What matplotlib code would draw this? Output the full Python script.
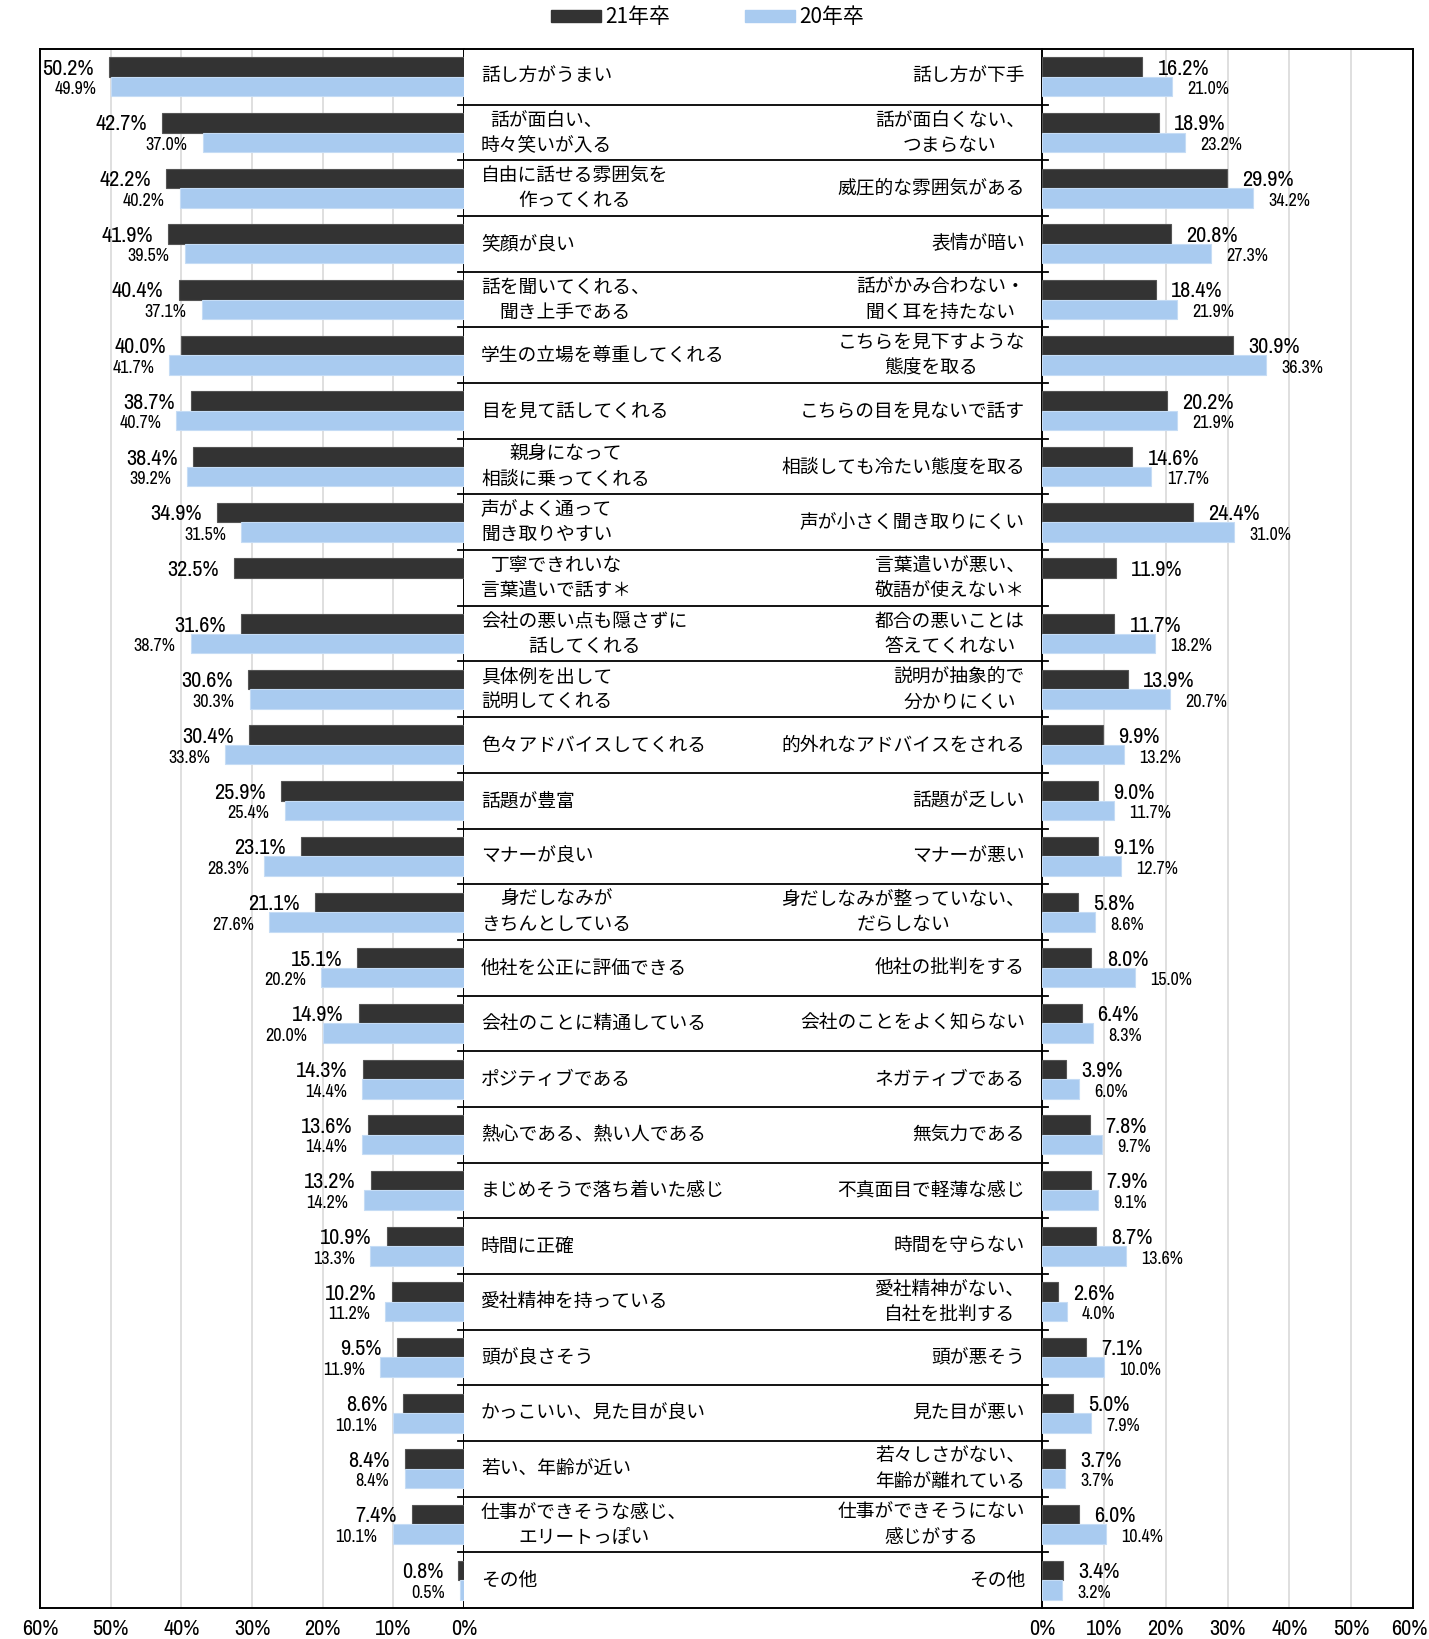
"""Good vs bad impressions of recruiters (21年卒 vs 20年卒), butterfly bar chart."""

import matplotlib
matplotlib.use("Agg")
import matplotlib.pyplot as plt
import matplotlib.transforms as mtransforms
import numpy as np
from matplotlib import font_manager
from matplotlib.lines import Line2D
from matplotlib.patches import Patch

JP = "Noto Sans CJK JP"

# the original uses a narrow font for the numbers; take one if the box has it
narrow = sorted({f.name for f in font_manager.fontManager.ttflist
                 if "Narrow" in f.name or "Condensed" in f.name})
if narrow:
    NUM = [narrow[0], JP]
    NUM_BIG, NUM_SMALL, TICK = 16, 13, 16
else:
    NUM = ["Liberation Sans", JP]
    NUM_BIG, NUM_SMALL, TICK = 13.5, 11, 12.5

GOOD_LABELS = [
    "話し方がうまい", "話が面白い、\n時々笑いが入る", "自由に話せる雰囲気を\n作ってくれる",
    "笑顔が良い", "話を聞いてくれる、\n聞き上手である", "学生の立場を尊重してくれる",
    "目を見て話してくれる", "親身になって\n相談に乗ってくれる", "声がよく通って\n聞き取りやすい",
    "丁寧できれいな\n言葉遣いで話す＊", "会社の悪い点も隠さずに\n話してくれる",
    "具体例を出して\n説明してくれる", "色々アドバイスしてくれる", "話題が豊富", "マナーが良い",
    "身だしなみが\nきちんとしている", "他社を公正に評価できる", "会社のことに精通している",
    "ポジティブである", "熱心である、熱い人である", "まじめそうで落ち着いた感じ",
    "時間に正確", "愛社精神を持っている", "頭が良さそう", "かっこいい、見た目が良い",
    "若い、年齢が近い", "仕事ができそうな感じ、\nエリートっぽい", "その他",
]
BAD_LABELS = [
    "話し方が下手", "話が面白くない、\nつまらない", "威圧的な雰囲気がある", "表情が暗い",
    "話がかみ合わない・\n聞く耳を持たない", "こちらを見下すような\n態度を取る",
    "こちらの目を見ないで話す", "相談しても冷たい態度を取る", "声が小さく聞き取りにくい",
    "言葉遣いが悪い、\n敬語が使えない＊", "都合の悪いことは\n答えてくれない",
    "説明が抽象的で\n分かりにくい", "的外れなアドバイスをされる", "話題が乏しい", "マナーが悪い",
    "身だしなみが整っていない、\nだらしない", "他社の批判をする", "会社のことをよく知らない",
    "ネガティブである", "無気力である", "不真面目で軽薄な感じ", "時間を守らない",
    "愛社精神がない、\n自社を批判する", "頭が悪そう", "見た目が悪い",
    "若々しさがない、\n年齢が離れている", "仕事ができそうにない\n感じがする", "その他",
]

nan = np.nan
GOOD_21 = [50.2, 42.7, 42.2, 41.9, 40.4, 40.0, 38.7, 38.4, 34.9, 32.5, 31.6, 30.6, 30.4, 25.9,
           23.1, 21.1, 15.1, 14.9, 14.3, 13.6, 13.2, 10.9, 10.2, 9.5, 8.6, 8.4, 7.4, 0.8]
GOOD_20 = [49.9, 37.0, 40.2, 39.5, 37.1, 41.7, 40.7, 39.2, 31.5, nan, 38.7, 30.3, 33.8, 25.4,
           28.3, 27.6, 20.2, 20.0, 14.4, 14.4, 14.2, 13.3, 11.2, 11.9, 10.1, 8.4, 10.1, 0.5]
BAD_21 = [16.2, 18.9, 29.9, 20.8, 18.4, 30.9, 20.2, 14.6, 24.4, 11.9, 11.7, 13.9, 9.9, 9.0,
          9.1, 5.8, 8.0, 6.4, 3.9, 7.8, 7.9, 8.7, 2.6, 7.1, 5.0, 3.7, 6.0, 3.4]
BAD_20 = [21.0, 23.2, 34.2, 27.3, 21.9, 36.3, 21.9, 17.7, 31.0, nan, 18.2, 20.7, 13.2, 11.7,
          12.7, 8.6, 15.0, 8.3, 6.0, 9.7, 9.1, 13.6, 4.0, 10.0, 7.9, 3.7, 10.4, 3.2]

SERIES = ["21年卒", "20年卒"]
DARK = "#333333"
BLUE = "#A9CBF0"
GRID = "#D9D9D9"

W, H = 1429, 1639
fig = plt.figure(figsize=(W / 100, H / 100), dpi=100)
fig.patch.set_facecolor("white")

# pixel layout of the three columns
X0, XL, XR, X1 = 40, 464, 1042, 1413
Y0, Y1 = 49, 1608
bottom = 1 - Y1 / H
height = (Y1 - Y0) / H
ax_l = fig.add_axes([X0 / W, bottom, (XL - X0) / W, height])
ax_m = fig.add_axes([XL / W, bottom, (XR - XL) / W, height])
ax_r = fig.add_axes([XR / W, bottom, (X1 - XR) / W, height])

n = len(GOOD_LABELS)
y = np.arange(n)
bh = 0.35


def draw_panel(ax, v21, v20, side):
    ax.barh(y - bh / 2, v21, bh, color=DARK, edgecolor="#555555", linewidth=0.8, zorder=3)
    ax.barh(y + bh / 2, v20, bh, color=BLUE, edgecolor="#C5DCF5", linewidth=0.8, zorder=3)
    ax.set_xlim(0, 60)
    ax.set_ylim(n - 0.5, -0.5)
    ax.set_yticks([])
    ax.set_xticks(np.arange(0, 61, 10))
    ax.set_xticklabels([f"{t}%" for t in range(0, 61, 10)], family=NUM, fontsize=TICK)
    ax.tick_params(axis="x", length=0, pad=8)
    ax.grid(axis="x", color=GRID, linewidth=1.2)
    ax.set_axisbelow(True)
    for s in ax.spines.values():
        s.set_color("black")
        s.set_linewidth(1.4)
    sgn = -1 if side == "left" else 1
    ha = "right" if side == "left" else "left"
    for i, (a, b) in enumerate(zip(v21, v20)):
        if not np.isnan(a):
            ax.annotate(f"{a:.1f}%", (a, i - bh / 2 + 0.03), xytext=(sgn * 11, 0),
                        textcoords="offset points", ha=ha, va="center",
                        family=NUM, fontsize=NUM_BIG)
        if not np.isnan(b):
            ax.annotate(f"{b:.1f}%", (b, i + bh / 2 + 0.05), xytext=(sgn * 11, 0),
                        textcoords="offset points", ha=ha, va="center",
                        family=NUM, fontsize=NUM_SMALL)
    if side == "left":
        ax.invert_xaxis()


draw_panel(ax_l, GOOD_21, GOOD_20, "left")
draw_panel(ax_r, BAD_21, BAD_20, "right")
# nudge the last tick label of the right panel so it stays inside the picture
last = ax_r.get_xticklabels()[-1]
last.set_transform(last.get_transform()
                   + mtransforms.ScaledTranslation(-3 / 72, 0, fig.dpi_scale_trans))

# middle text column
ax_m.set_xlim(0, 1)
ax_m.set_ylim(n - 0.5, -0.5)
ax_m.set_xticks([])
ax_m.set_yticks([])
for side in ("left", "right"):
    ax_m.spines[side].set_visible(False)
for side in ("top", "bottom"):
    ax_m.spines[side].set_linewidth(1.4)
for i in range(n):
    ax_m.text(17 / (XR - XL), i, GOOD_LABELS[i], ha="left", va="center",
              multialignment="center", family=JP, fontsize=13.5, linespacing=1.25)
    ax_m.text(1 - 17 / (XR - XL), i, BAD_LABELS[i], ha="right", va="center",
              multialignment="center", family=JP, fontsize=13.5, linespacing=1.25)

# row separators (extend a little past the inner spines)
for i in range(n - 1):
    yy = bottom + height * (1 - (i + 1) / n)
    fig.add_artist(Line2D([(XL - 6) / W, (XR + 6) / W], [yy, yy],
                          color="black", linewidth=1.3))

handles = [Patch(facecolor=DARK, edgecolor=DARK), Patch(facecolor=BLUE, edgecolor=BLUE)]
fig.legend(handles, SERIES, loc="center", bbox_to_anchor=(0.495, 1 - 17 / H), ncol=2,
           frameon=False, prop={"family": JP, "size": 15}, handlelength=2.4,
           handleheight=0.5, handletextpad=0.2, columnspacing=3.6)

fig.savefig("out.png", dpi=100, facecolor="white")
